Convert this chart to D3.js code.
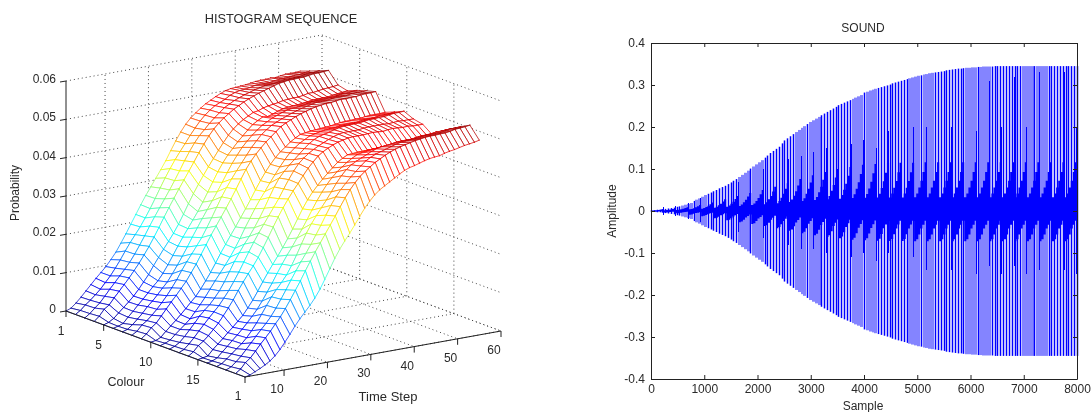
<!DOCTYPE html>
<html><head><meta charset="utf-8">
<script src="https://cdn.jsdelivr.net/npm/d3@7/dist/d3.min.js"></script>
<style>
html,body{margin:0;padding:0;background:#fff;overflow:hidden}
svg{display:block;filter:blur(.3px)}
text{font-family:"Liberation Sans",Arial,sans-serif;font-size:12px;fill:#2a2a2a}
</style></head><body>
<svg id="c" width="1091" height="412"></svg>
<script>
// ---------- data: histogram surface (probability x 1e-4), one row per colour ----------
const colourTicks=[1,5,10,15];
const timeTicks=[1,10,20,30,40,50,60];
const probTicks=[0,0.01,0.02,0.03,0.04,0.05,0.06];
const histogramRows=[
[0,5,16,29,43,57,71,84,97,113,130,151,173,196,219,242,264,284,304,324,345,369,392,413,431,445,456,466,475,482,489,495,500,503,504,505,506,508,510,511,511,512,511,513,515,515,515,516],
[0,8,20,30,42,54,69,84,102,121,142,162,180,198,219,241,265,290,314,336,357,376,394,413,430,446,459,470,479,485,491,499,504,507,508,510,513,514,514,514,516,518,518,519,521,521,523,525],
[0,9,21,32,47,63,78,93,108,124,143,164,186,209,231,252,273,294,316,339,363,385,405,422,435,449,461,472,483,490,497,502,507,511,515,518,521,522,523,525,527,527,528,529,531,533,533,535],
[0,11,27,36,52,67,82,97,114,131,150,170,192,215,239,262,284,306,327,348,369,391,411,430,446,459,470,479,488,495,502,508,513,518,522,526,530,534,536,538,538,539,539,541,543,543,544,545],
[0,4,12,24,36,48,61,76,93,110,131,150,169,187,206,227,251,276,300,322,343,363,382,401,419,436,450,461,470,477,484,486,491,494,496,498,501,502,503,503,505,508,508,510,512,513,514,516],
[0,3,8,22,35,49,62,76,90,103,120,140,162,184,205,225,245,265,287,311,335,359,380,398,413,428,441,454,466,474,481,480,484,489,493,495,496,497,498,500,502,502,503,503,505,507,508,510],
[0,4,14,26,39,54,66,80,95,109,128,148,169,191,214,236,258,279,300,321,343,366,388,407,425,439,452,463,473,480,487,492,497,501,503,504,506,508,511,512,512,513,513,515,517,517,519,520],
[0,8,22,31,43,56,71,87,105,124,146,166,184,203,222,245,269,294,319,341,361,380,398,416,434,449,463,473,482,488,494,499,504,508,512,515,518,521,521,521,523,525,525,525,527,527,527,528],
[0,10,24,34,50,66,82,97,113,129,149,169,192,215,238,259,280,301,323,346,370,393,412,428,442,455,466,477,488,495,501,507,512,516,520,523,525,527,527,529,531,530,531,531,533,534,534,535],
[0,2,8,21,33,45,58,71,85,98,115,134,154,176,199,220,241,261,282,303,325,348,370,390,408,423,436,446,457,465,472,474,476,477,478,479,480,482,484,485,485,486,486,488,489,489,489,490],
[0,4,10,22,33,44,56,72,88,105,124,143,161,179,198,219,242,267,290,313,334,353,373,392,410,427,442,453,463,470,477,480,483,485,486,487,489,490,490,490,492,494,494,495,497,497,498,500],
[0,5,13,26,41,56,72,85,97,112,129,150,174,198,219,239,257,277,299,323,349,374,395,410,424,436,448,460,471,479,485,488,491,495,498,500,500,501,501,503,505,505,506,506,508,510,510,511],
[0,6,18,32,47,62,76,90,104,121,139,160,182,206,230,253,275,295,315,335,355,378,400,420,437,449,459,467,474,480,486,491,495,497,497,497,497,499,500,500,500,500,499,500,501,500,500,500],
[0,9,23,32,44,58,72,89,107,126,148,168,187,205,225,248,272,297,321,343,363,382,399,417,434,448,461,470,477,483,488,491,494,495,495,495,496,497,496,495,497,498,497,496,497,495,495,495],
[0,2,5,19,31,43,56,68,81,94,111,129,150,172,193,213,232,252,273,296,320,344,365,383,398,412,425,437,449,457,464,465,466,466,467,467,468,468,469,470,472,472,473,473,475,477,476,477],
[0,3,9,22,34,47,59,72,86,101,117,136,157,178,201,223,244,263,284,305,327,350,372,392,410,425,438,448,458,466,473,476,478,480,481,482,482,483,484,485,485,486,485,487,489,489,489,490],
[0,5,15,26,37,48,61,77,95,115,136,156,173,189,206,228,253,280,306,328,347,365,383,402,422,439,453,463,470,476,482,488,493,496,497,499,501,502,502,502,504,506,506,507,509,509,510,510],
[0,6,17,29,44,59,74,89,103,119,138,159,181,204,226,247,267,288,310,333,357,380,400,417,431,445,457,469,480,487,493,497,501,505,509,512,513,514,514,516,518,518,519,519,521,524,524,525],
[0,9,24,34,49,65,79,94,111,127,146,167,189,211,235,258,280,301,322,343,364,386,407,426,442,456,467,476,485,492,499,505,510,514,517,520,523,525,527,528,528,529,529,531,534,535,536,538],
[0,3,9,15,22,30,41,55,72,90,109,126,141,156,173,193,217,242,267,289,308,326,345,365,384,400,414,425,433,441,449,457,464,469,472,476,480,483,485,486,490,493,495,498,501,503,505,508]
];
const jetStops=["#00008f","#0000ff","#00ffff","#ffff00","#ff0000","#800000"];
// ---------- data: sound ----------
const soundPeak=[.002,.002,.003,.003,.004,.005,.006,.007,.008,.010,.011,.013,.015,.017,.019,.024,.027,.030,.034,.038,
.041,.044,.047,.050,.054,.057,.060,.064,.068,.072,.076,.081,.086,.091,.096,.101,.106,.111,.116,.121,
.127,.132,.138,.143,.148,.153,.161,.168,.173,.178,.183,.188,.193,.198,.202,.207,.212,.216,.220,.224,
.228,.232,.236,.240,.244,.248,.252,.255,.258,.261,.264,.267,.270,.273,.276,.282,.284,.287,.289,.291,
.293,.295,.297,.299,.301,.304,.306,.308,.310,.312,.314,.316,.318,.320,.322,.323,.325,.326,.328,.329,
.330,.331,.332,.333,.335,.336,.337,.338,.339,.339,.340,.341,.341,.342,.342,.343,.343,.344,.344,.344,
.344,.345,.345,.345,.345,.345,.345,.345,.345,.345,.345,.345,.345,.345,.345,.345,.345,.345,.345,.345,
.345,.345,.345,.345,.345,.345,.345,.345,.345,.345,.345];
const stripeTone=[0,0,0,0,0,0,0,0,0,0,0,1,1,1,1,0,1,1,1,1];
const corePeak=[.004,.006,.009,.014,.02,.028,.036,.043,.05,.058,.066,.076,.085,.093,.1,.105,.11,.112,.114,.115,.115,.116,.116,.116,.116,.116,.116,.116,.116,.116,.116,.116,.116,.116];
const coreRise=[.28,.36,.48,.62,.8,1];
const coreFall=[.62,.58,.48,.36,.28,.2];
const accentUp=[.01,.012,.02,.03,.04,.06,.07,.085,.1,.11,.125,.13,.14,.15,.14,.16,.17,.15,.19,.17,.2,.2,.16,.2,.31,.19,.31,.2,.32,.2,.33,.2,.33,.2];
const accentDown=[.01,.012,.018,.026,.03,.04,.05,.06,.065,.075,.08,.09,.09,.1,.1,.11,.1,.12,.1,.13,.11,.14,.12,.14,.13,.15,.13,.15,.13,.15,.14,.15,.14,.15];
const xTicksSound=[0,1000,2000,3000,4000,5000,6000,7000,8000];
const yTicksSound=[-0.4,-0.3,-0.2,-0.1,0,0.1,0.2,0.3,0.4];

histogramRows.forEach((r,i)=>{if(r.length!==48)throw new Error("row "+i+" has "+r.length)});

const svg=d3.select("#c");
const ink="#2a2a2a";

// ---------- 3D mesh ----------
const tx=d3.scaleLinear().domain([1,60]).range([0,256]);
const ty=d3.scaleLinear().domain([1,60]).range([0,-46]);
const cx=d3.scaleLinear().domain([1,20]).range([-179,0]);
const cy=d3.scaleLinear().domain([1,20]).range([-66,0]);
const zy=d3.scaleLinear().domain([0,0.06]).range([0,-230]);
const P=(c,t,z)=>[245+tx(t)+cx(c),377+ty(t)+cy(c)+zy(z)];
const jet=d3.scaleLinear().domain([0,.125,.375,.625,.875,1].map(f=>f*0.0552)).range(jetStops).clamp(true);
const line=d3.line();

const gL=svg.append("g");
const grid=gL.append("g").attr("fill","none").attr("stroke","#444").attr("stroke-width",1).attr("stroke-dasharray","1 3");
const seg=(a,b)=>grid.append("path").attr("d",line([a,b]));
probTicks.forEach(z=>{ seg(P(1,1,z),P(1,60,z)); seg(P(1,60,z),P(20,60,z)); });
[10,20,30,40,50,60].forEach(t=>{ seg(P(1,t,0),P(1,t,.06)); seg(P(1,t,0),P(20,t,0)); });
[1,5,10,15,20].forEach(c=>{ seg(P(c,1,0),P(c,60,0)); });
[5,10,15].forEach(c=>{ seg(P(c,60,0),P(c,60,.06)); });

const mesh=gL.append("g").attr("fill","none").attr("stroke-width",1).attr("stroke-linecap","round").attr("stroke-opacity",.75);
const timeGrid=d3.range(48).map(i=>1+i*54/47);
const V=(r,i)=>{const z=histogramRows[r][i]*1e-4;return {p:P(r+1,timeGrid[i],z),z};};
for(let i=46;i>=0;i--){
  for(let r=0;r<19;r++){
    const a=V(r,i),b=V(r,i+1),cc=V(r+1,i+1),d=V(r+1,i);
    mesh.append("path").attr("d",line([a.p,b.p,cc.p,d.p])+"Z").attr("fill","#fff").attr("stroke","none");
    [[a,b],[b,cc],[cc,d],[d,a]].forEach(([u,v])=>{
      mesh.append("path").attr("d",line([u.p,v.p])).attr("stroke",jet((u.z+v.z)/2));
    });
  }
}

// axes of the 3D box
const axisG=gL.append("g").attr("stroke","#222").attr("fill","none");
axisG.append("path").attr("d",line([P(1,1,0),P(1,1,.06)]));
axisG.append("path").attr("d",line([P(1,1,0),P(20,1,0)]));
axisG.append("path").attr("d",line([P(20,1,0),P(20,60,0)]));
probTicks.forEach(z=>{const p=P(1,1,z);axisG.append("path").attr("d",line([p,[p[0]-6,p[1]+1]]));});
colourTicks.forEach(c=>{const p=P(c,1,0);axisG.append("path").attr("d",line([p,[p[0],p[1]+6]]));});
timeTicks.forEach(t=>{const p=P(20,t,0);axisG.append("path").attr("d",line([p,[p[0],p[1]+6]]));});
const lab=(x,y,s,anchor="middle")=>gL.append("text").attr("x",x).attr("y",y).attr("text-anchor",anchor).attr("dominant-baseline","central").text(s);
probTicks.forEach(z=>{const p=P(1,1,z);lab(56,p[1]-2,String(z),"end");});
colourTicks.forEach(c=>{const p=P(c,1,0);lab(p[0]-5,p[1]+20,String(c));});
timeTicks.forEach(t=>{const p=P(20,t,0);lab(p[0]-7,p[1]+19,String(t));});
lab(126,382,"Colour").style("font-size","12.5px");
lab(388,396,"Time Step").style("font-size","13px");
lab(281,18,"HISTOGRAM SEQUENCE").style("font-size","12.8px");
gL.append("text").attr("transform","translate(15,193) rotate(-90)").attr("text-anchor","middle").attr("dominant-baseline","central").text("Probability");

// ---------- sound plot ----------
const W={l:651,r:1077,t:43,b:379};
const sx=d3.scaleLinear().domain([0,8000]).range([W.l,W.r]);
const sy=d3.scaleLinear().domain([-0.4,0.4]).range([W.b,W.t]);
const gR=svg.append("g");
const spikeStep=8000/150;
const spikes=soundPeak.map((p,i)=>({p,s:i*spikeStep,tone:stripeTone[i%stripeTone.length]}));
// stripes: crisp dark columns or pale blocks, snapped to pixel columns
gR.append("g").selectAll("rect").data(spikes).join("rect")
 .attr("x",d=>d.tone?Math.round(sx(d.s))-1:Math.round(sx(d.s))-.25)
 .attr("width",d=>d.tone?3:1.5)
 .attr("y",d=>sy(d.p)).attr("height",d=>sy(-d.p)-sy(d.p))
 .attr("fill",d=>d.tone?"#8484ff":"#0000ff");
// solid core
const cycle=8000/corePeak.length;
const corePts=[];
corePeak.forEach((p,k)=>coreRise.forEach((f,j)=>corePts.push({s:(k+j/coreRise.length)*cycle,up:p*f,dn:p*coreFall[j]})));
corePts.push({s:8000,up:corePeak[33],dn:corePeak[33]*.2});
gR.append("path").attr("fill","#0000ff")
 .attr("d",d3.area().x(d=>sx(d.s)).y0(d=>sy(-d.dn)).y1(d=>sy(d.up)).curve(d3.curveStepAfter)(corePts));
gR.append("g").attr("stroke","#0000ff").attr("shape-rendering","crispEdges").selectAll("line").data(accentUp).join("line")
 .attr("x1",(d,i)=>sx((i+.98)*cycle)).attr("x2",(d,i)=>sx((i+.98)*cycle))
 .attr("y1",d=>sy(d)).attr("y2",(d,i)=>sy(-accentDown[i]));

const ax=(g,a)=>{g.call(a);g.select(".domain").attr("stroke","#222");g.selectAll(".tick line").attr("stroke","#222");g.selectAll("text").style("font-size","12px").attr("fill",ink);return g;};
const fmt=d=>String(d);
ax(gR.append("g").attr("transform",`translate(0,${W.b})`),d3.axisBottom(sx).tickValues(xTicksSound).tickSize(-4).tickSizeOuter(0).tickPadding(5).tickFormat(fmt));
ax(gR.append("g").attr("transform",`translate(0,${W.t})`),d3.axisTop(sx).tickValues(xTicksSound).tickSize(-4).tickSizeOuter(0).tickFormat(""));
ax(gR.append("g").attr("transform",`translate(${W.l},0)`),d3.axisLeft(sy).tickValues(yTicksSound).tickSize(-4).tickSizeOuter(0).tickPadding(6).tickFormat(fmt));
ax(gR.append("g").attr("transform",`translate(${W.r},0)`),d3.axisRight(sy).tickValues(yTicksSound).tickSize(-4).tickSizeOuter(0).tickFormat(""));
const labR=(x,y,s)=>gR.append("text").attr("x",x).attr("y",y).attr("text-anchor","middle").attr("dominant-baseline","central").text(s);
labR(863,28,"SOUND");labR(863,406,"Sample");
gR.append("text").attr("transform","translate(612,211) rotate(-90)").attr("text-anchor","middle").attr("dominant-baseline","central").text("Amplitude");
</script></body></html>
